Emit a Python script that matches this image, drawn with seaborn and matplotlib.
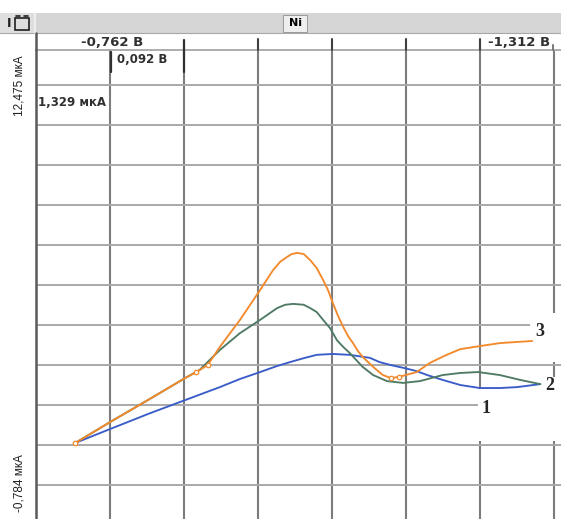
import numpy as np
import pandas as pd
import matplotlib
matplotlib.use("Agg")
import matplotlib.pyplot as plt
from matplotlib.patches import Rectangle
from matplotlib.lines import Line2D
import seaborn as sns

# Potential (V) and current (µA) for the three voltammograms of Ni
E1 = [-0.719, -0.762, -0.812, -0.855, -0.898, -0.923, -0.948, -0.969, -0.985,
      -1.002, -1.018, -1.038, -1.059, -1.084, -1.096, -1.110, -1.127, -1.142,
      -1.155, -1.174, -1.196, -1.220, -1.245, -1.266, -1.295]
I1 = [0.61, 1.07, 1.60, 2.03, 2.46, 2.73, 2.96, 3.16, 3.29,
      3.42, 3.53, 3.56, 3.53, 3.43, 3.29, 3.19, 3.09, 2.99,
      2.86, 2.70, 2.53, 2.43, 2.43, 2.46, 2.56]

E2 = [-0.719, -0.762, -0.812, -0.855, -0.873, -0.898, -0.923, -0.948, -0.969,
      -0.979, -0.989, -1.002, -1.010, -1.018, -1.026, -1.035, -1.043, -1.051,
      -1.059, -1.067, -1.075, -1.088, -1.105, -1.125, -1.146, -1.174, -1.196,
      -1.218, -1.245, -1.270, -1.295]
I2 = [0.61, 1.30, 2.08, 2.76, 3.03, 3.69, 4.25, 4.69, 5.08,
      5.19, 5.22, 5.19, 5.08, 4.95, 4.69, 4.40, 4.02, 3.79,
      3.59, 3.36, 3.13, 2.86, 2.66, 2.60, 2.66, 2.86, 2.93,
      2.96, 2.86, 2.70, 2.56]

E3 = [-0.719, -0.762, -0.812, -0.855, -0.869, -0.883, -0.898, -0.923, -0.948,
      -0.964, -0.973, -0.981, -0.987, -0.994, -1.002, -1.010, -1.018, -1.026,
      -1.032, -1.038, -1.044, -1.051, -1.057, -1.063, -1.069, -1.075, -1.088,
      -1.100, -1.110, -1.120, -1.142, -1.158, -1.179, -1.196, -1.220, -1.245,
      -1.285]
I3 = [0.61, 1.30, 2.08, 2.76, 2.96, 3.19, 3.79, 4.69, 5.68,
      6.34, 6.62, 6.77, 6.87, 6.91, 6.87, 6.67, 6.41, 6.01,
      5.68, 5.25, 4.85, 4.45, 4.15, 3.92, 3.66, 3.46, 3.13,
      2.86, 2.76, 2.80, 2.96, 3.26, 3.53, 3.72, 3.82, 3.92,
      3.99]
# measured points shown with open markers on curve 3
marked3 = [0, 4, 5, 28, 29]

curve_names = ["1", "2", "3"]
curve_colors = ["#3a5cc8", "#4f7a64", "#f28a2c"]
# where the curve numbers are written (V, µA)
label_E = [-1.228, -1.307, -1.295]
label_I = [1.74, 2.50, 4.29]

# scale of the recorder screen
E_start, E_end = -0.762, -1.312
I_top, I_bottom = 12.475, -0.784
n_xdiv, n_ydiv = 6, 10
header_left, header_right = "-0,762 В", "-1,312 В"
x_step_text, y_step_text = "0,092 В", "1,329 мкА"
y_top_text, y_bottom_text = "12,475 мкА", "-0,784 мкА"
title = "Ni"

df = pd.concat([
    pd.DataFrame({"E": E1, "I": I1, "curve": "1"}),
    pd.DataFrame({"E": E2, "I": I2, "curve": "2"}),
    pd.DataFrame({"E": E3, "I": I3, "curve": "3"}),
], ignore_index=True)

sns.set_style("white")
plt.rcParams["font.family"] = ["DejaVu Sans"]

W, H = 561, 519
fig = plt.figure(figsize=(W / 100, H / 100), dpi=100)
fig.patch.set_facecolor("white")


def fx(px):
    return px / W


def fy(py):
    return 1 - py / H


# plot area of the screen
ax_l, ax_t, ax_r, ax_b = 36, 50, 561, 519
ax = fig.add_axes([fx(ax_l), fy(ax_b), fx(ax_r) - fx(ax_l), fy(ax_t) - fy(ax_b)])

dx = (E_end - E_start) / n_xdiv
dy = (I_top - I_bottom) / n_ydiv
px_per_x = (554 - 110) / n_xdiv
px_per_y = (485 - 85) / n_ydiv
ax.set_xlim(E_start - dx * (110 - ax_l) / px_per_x,
            E_start + dx * (ax_r - 110) / px_per_x)
ax.set_ylim(I_top - dy * (ax_b - 85) / px_per_y,
            I_top + dy * (85 - ax_t) / px_per_y)

xgrid = [E_start + k * dx for k in range(n_xdiv + 1)]
ygrid = [I_top - k * dy for k in range(n_ydiv + 1)]
ax.set_xticks(xgrid)
ax.set_yticks(ygrid)
ax.set_axisbelow(True)
ax.grid(axis="x", color="#7c7c7c", lw=1.5)
ax.grid(axis="y", color="#a9a9a9", lw=1.4)
ax.tick_params(axis="x", length=0, labelbottom=False, labeltop=False)
ax.tick_params(axis="y", direction="out", length=10, width=1.4,
               color="#5a5a5a", labelleft=False)
for s in ("right", "bottom"):
    ax.spines[s].set_visible(False)
ax.spines["left"].set_color("#5a5a5a")
ax.spines["left"].set_linewidth(1.8)
ax.spines["top"].set_color("#a0a0a0")
ax.spines["top"].set_linewidth(1.2)

# white pads behind the curve numbers
for (x0, y0, w, h) in [(0.941, 0.335, 0.059, 0.105),
                       (0.842, 0.166, 0.158, 0.111),
                       (0.975, 0.277, 0.025, 0.026)]:
    ax.add_patch(Rectangle((x0, y0), w, h, transform=ax.transAxes,
                           fc="white", ec="none", zorder=1))

sns.lineplot(data=df, x="E", y="I", hue="curve", hue_order=curve_names,
             palette=curve_colors, sort=False, estimator=None,
             legend=False, lw=1.35, ax=ax, zorder=3)
ax.plot([E3[i] for i in marked3], [I3[i] for i in marked3], "o",
        ms=3.2, mfc="white", mec=curve_colors[2], mew=0.9, zorder=4)
ax.set_xlabel("")
ax.set_ylabel("")

for name, ex, iy in zip(curve_names, label_E, label_I):
    ax.text(ex, iy, name, ha="center", va="center", fontsize=13,
            fontweight="bold", family="Liberation Serif", zorder=5)

# header bar with the element name
fig.patches.append(Rectangle((fx(0), fy(33)), fx(W), fy(13) - fy(33),
                             transform=fig.transFigure, fc="#d5d5d5",
                             ec="none", zorder=0))
fig.patches.append(Rectangle((fx(0), fy(33)), fx(34), fy(13) - fy(33),
                             transform=fig.transFigure, fc="#dedede",
                             ec="none", zorder=0))
fig.lines.append(Line2D([fx(0), fx(W)], [fy(33), fy(33)],
                        transform=fig.transFigure, color="#a8a8a8", lw=0.8))
fig.lines.append(Line2D([fx(35), fx(35)], [fy(13), fy(33)],
                        transform=fig.transFigure, color="#f4f4f4", lw=1.2))
fig.patches.append(Rectangle((fx(283), fy(32)), fx(307) - fx(283),
                             fy(15) - fy(32), transform=fig.transFigure,
                             fc="#eeeeee", ec="#9a9a9a", lw=0.7, zorder=1))
fig.text(fx(295), fy(23.5), title, ha="center", va="center", fontsize=8,
         fontweight="bold", color="black")

# small window icon at the left of the bar
fig.text(fx(9), fy(23.5), "I", ha="center", va="center", fontsize=9,
         fontweight="bold", color="#202020")
fig.patches.append(Rectangle((fx(15), fy(30)), fx(29) - fx(15), fy(18) - fy(30),
                             transform=fig.transFigure, fc="none",
                             ec="#202020", lw=1.2, zorder=2))
for x0, x1 in [(16, 20), (24, 28)]:
    fig.lines.append(Line2D([fx(x0), fx(x1)], [fy(16), fy(16)],
                            transform=fig.transFigure, color="#202020", lw=1.2))

# potential scale above the grid
fig.lines.append(Line2D([fx(36), fx(36)], [fy(33), fy(50)],
                        transform=fig.transFigure, color="#5a5a5a", lw=1.8))
for xp in (258, 332, 406, 480):
    fig.lines.append(Line2D([fx(xp), fx(xp)], [fy(39), fy(50)],
                            transform=fig.transFigure, color="#404040",
                            lw=1.5, zorder=3))
fig.lines.append(Line2D([fx(553), fx(553)], [fy(45), fy(50)],
                        transform=fig.transFigure, color="#7c7c7c", lw=1.5))
fig.lines.append(Line2D([fx(184), fx(184)], [fy(40), fy(72)],
                        transform=fig.transFigure, color="#303030",
                        lw=1.6, zorder=3))
fig.lines.append(Line2D([fx(111), fx(111)], [fy(52), fy(72)],
                        transform=fig.transFigure, color="#303030",
                        lw=1.6, zorder=3))

fig.text(fx(112), fy(42), header_left, ha="center", va="center",
         fontsize=9.5, fontweight="bold", color="#303030")
fig.text(fx(488), fy(42), header_right, ha="left", va="center",
         fontsize=9.5, fontweight="bold", color="#303030")
fig.text(fx(117), fy(60), x_step_text, ha="left", va="center",
         fontsize=8.5, fontweight="bold", color="#303030", zorder=4)
fig.text(fx(38), fy(103), y_step_text, ha="left", va="center",
         fontsize=8.5, fontweight="bold", color="#303030", zorder=4)
fig.text(fx(20), fy(86), y_top_text, ha="center", va="center",
         rotation=90, fontsize=8.5, family="Liberation Sans", color="#202020")
fig.text(fx(20), fy(483), y_bottom_text, ha="center", va="center",
         rotation=90, fontsize=8.5, family="Liberation Sans", color="#202020")

fig.savefig("out.png", dpi=100, facecolor="white")
